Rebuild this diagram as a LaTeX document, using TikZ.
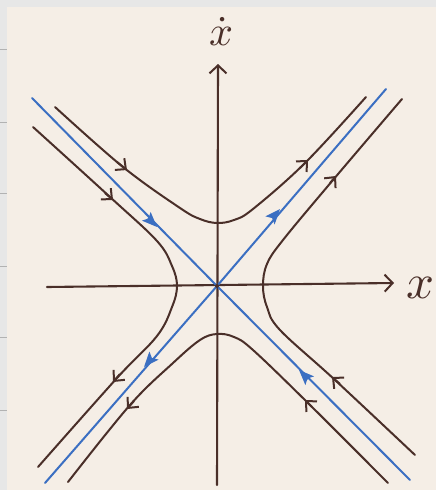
\documentclass[tikz,border=0pt]{standalone}
\usepackage{graphicx}
\usetikzlibrary{arrows.meta}
\definecolor{paper}{HTML}{F5EEE6}
\definecolor{frame}{HTML}{E7E7E7}
\definecolor{ink}{HTML}{4A2F29}
\definecolor{pen}{HTML}{3B6FC2}
\tikzset{
  traj/.style={ink, line width=2pt, line cap=round, line join=round},
  sep/.style={pen, line width=2pt, line cap=round},
  axisline/.style={ink, line width=2.1pt, line cap=round},
  brarrow/.style={ink, line width=2pt, -{Straight Barb[length=8pt,width=15pt,line width=2pt]}},
  blarrow/.style={pen, line width=2pt, -{Stealth[length=15pt,width=12pt,inset=3pt]}},
  lbl/.style={text=ink, inner sep=0pt, anchor=base},
}
\begin{document}
\begin{tikzpicture}[x=1pt,y=-1pt]
\useasboundingbox (0,0) rectangle (436,490);
\fill[frame] (0,0) rectangle (436,490);
\fill[paper] (7,7) rectangle (436,490);
\foreach \yy in {49,122,193,266,337,410} \draw[gray!60, line width=0.8pt] (0,\yy) -- (7,\yy);

% axes
\coordinate (O) at (217,286);
\coordinate (xl) at (47,287);
\coordinate (xr) at (394,283);
\coordinate (yb) at (217,485);
\coordinate (yt) at (218,64);
\draw[axisline, -{Straight Barb[length=8pt,width=17pt,line width=2pt]}] (xl) -- (xr);
\draw[axisline, -{Straight Barb[length=8pt,width=17pt,line width=2pt]}] (yb) -- (yt);
\node[lbl] (xlabel) at (420,298) {\scalebox{4.9}{$x$}};
\node[lbl] (ylabel) at (221,45) {\scalebox{4.2}{$\dot{x}$}};

% trajectories (brown)
\draw[traj] plot[smooth, tension=0.6] coordinates {(55,107) (123,167) (180,208) (200,219) (217,223) (234,220) (253,209) (305,163) (366,97)};
\draw[traj] plot[smooth, tension=0.6] coordinates {(33,127) (110,197) (157,241) (172,266) (177,286) (172,307) (157,336) (117,378) (38,467)};
\draw[traj] plot[smooth, tension=0.6] coordinates {(415,455) (335,380) (280,330) (267,307) (263,286) (267,264) (283,240) (333,180) (402,99)};
\draw[traj] plot[smooth, tension=0.6] coordinates {(388,483) (308,403) (253,350) (234,337) (217,334) (200,340) (173,363) (130,405) (68,482)};

\draw[brarrow] (117,162) -- (127,170);
\draw[brarrow] (300,168) -- (308,160);
\draw[brarrow] (105,193) -- (113,200);
\draw[brarrow] (120,374) -- (113,382);
\draw[brarrow] (340,384) -- (332,377);
\draw[brarrow] (330,183) -- (336,176);
\draw[brarrow] (312,407) -- (305,400);
\draw[brarrow] (134,401) -- (127,409);

% separatrices (blue)
\coordinate (s1a) at (32,98);
\coordinate (s1b) at (410,480);
\coordinate (s2a) at (45,483);
\coordinate (s2b) at (386,89);
\draw[sep] (s1a) -- (O) -- (s1b);
\draw[sep] (s2a) -- (O) -- (s2b);
\draw[blarrow] (148,218) -- (157,227);
\draw[blarrow] (308,379) -- (299,370);
\draw[blarrow] (273,217) -- (280,209);
\draw[blarrow] (151,359) -- (144,367);
\fill[ink] (O) circle (2pt);
\end{tikzpicture}
\end{document}
